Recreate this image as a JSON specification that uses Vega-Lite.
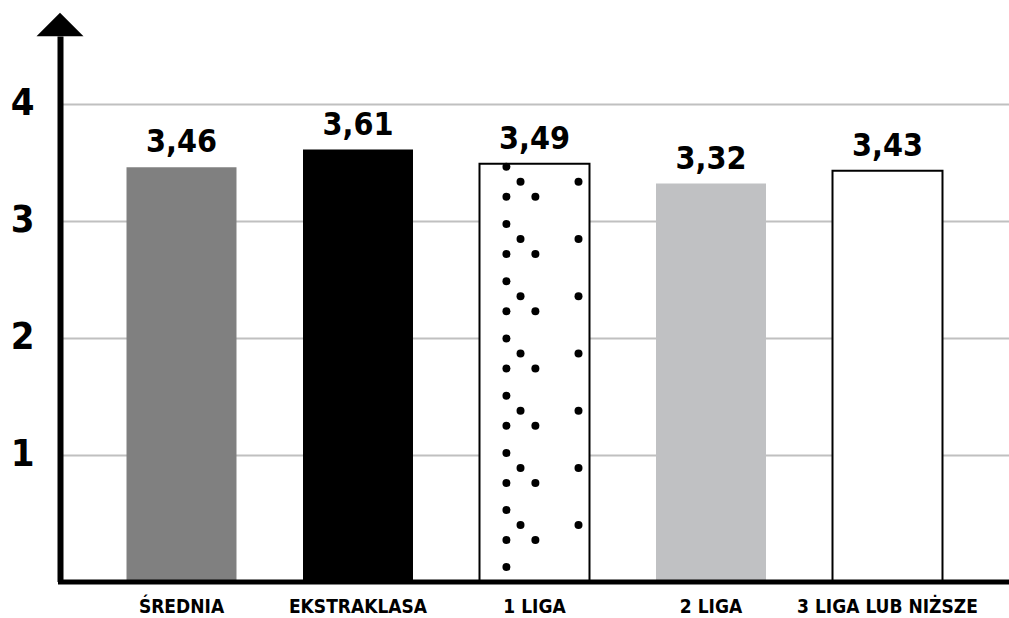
{
  "$schema": "https://vega.github.io/schema/vega-lite/v6.json",
  "width": 949,
  "height": 545.5,
  "autosize": {"type": "none"},
  "padding": {"left": 60, "top": 36, "right": 0, "bottom": 36.5},
  "background": "white",
  "config": {
    "view": {"stroke": null},
    "font": "DejaVu Sans Condensed",
    "locale": {"number": {"decimal": ",", "thousands": " ", "grouping": [3], "currency": ["", " zł"]}}
  },
  "datasets": {
    "bars": [
      {"k": "ŚREDNIA", "v": 3.46},
      {"k": "EKSTRAKLASA", "v": 3.61},
      {"k": "1 LIGA", "v": 3.49},
      {"k": "2 LIGA", "v": 3.32},
      {"k": "3 LIGA LUB NIŻSZE", "v": 3.43}
    ],
    "dots": [
      {"k": "1 LIGA", "col": "a", "v": 3.464}, {"k": "1 LIGA", "col": "b", "v": 3.336}, {"k": "1 LIGA", "col": "d", "v": 3.336}, {"k": "1 LIGA", "col": "a", "v": 3.208}, {"k": "1 LIGA", "col": "c", "v": 3.208},
      {"k": "1 LIGA", "col": "a", "v": 2.974}, {"k": "1 LIGA", "col": "b", "v": 2.846}, {"k": "1 LIGA", "col": "d", "v": 2.846}, {"k": "1 LIGA", "col": "a", "v": 2.718}, {"k": "1 LIGA", "col": "c", "v": 2.718},
      {"k": "1 LIGA", "col": "a", "v": 2.485}, {"k": "1 LIGA", "col": "b", "v": 2.356}, {"k": "1 LIGA", "col": "d", "v": 2.356}, {"k": "1 LIGA", "col": "a", "v": 2.228}, {"k": "1 LIGA", "col": "c", "v": 2.228},
      {"k": "1 LIGA", "col": "a", "v": 1.996}, {"k": "1 LIGA", "col": "b", "v": 1.868}, {"k": "1 LIGA", "col": "d", "v": 1.868}, {"k": "1 LIGA", "col": "a", "v": 1.739}, {"k": "1 LIGA", "col": "c", "v": 1.739},
      {"k": "1 LIGA", "col": "a", "v": 1.506}, {"k": "1 LIGA", "col": "b", "v": 1.378}, {"k": "1 LIGA", "col": "d", "v": 1.378}, {"k": "1 LIGA", "col": "a", "v": 1.25}, {"k": "1 LIGA", "col": "c", "v": 1.25},
      {"k": "1 LIGA", "col": "a", "v": 1.017}, {"k": "1 LIGA", "col": "b", "v": 0.889}, {"k": "1 LIGA", "col": "d", "v": 0.889}, {"k": "1 LIGA", "col": "a", "v": 0.761}, {"k": "1 LIGA", "col": "c", "v": 0.761},
      {"k": "1 LIGA", "col": "a", "v": 0.53}, {"k": "1 LIGA", "col": "b", "v": 0.402}, {"k": "1 LIGA", "col": "d", "v": 0.402}, {"k": "1 LIGA", "col": "a", "v": 0.274}, {"k": "1 LIGA", "col": "c", "v": 0.274},
      {"k": "1 LIGA", "col": "a", "v": 0.043}
    ]
  },
  "layer": [
    {
      "data": {"name": "bars"},
      "mark": {"type": "bar", "strokeWidth": 2, "clip": false},
      "encoding": {
        "x": {
          "field": "k",
          "type": "nominal",
          "scale": {
            "domain": ["ŚREDNIA", "EKSTRAKLASA", "1 LIGA", "2 LIGA", "3 LIGA LUB NIŻSZE"],
            "paddingInner": 0.3768,
            "paddingOuter": 0.3768
          },
          "axis": {
            "title": null,
            "labelAngle": 0,
            "labelFontSize": 19,
            "labelFontWeight": "bold",
            "labelColor": "black",
            "labelPadding": 16,
            "labelLimit": 400,
            "ticks": false,
            "tickSize": 0,
            "domainColor": "black",
            "domainWidth": 5,
            "domainCap": "square",
            "grid": false,
            "zindex": 1
          }
        },
        "y": {
          "field": "v",
          "type": "quantitative",
          "scale": {"domain": [-0.0812, 4.581], "nice": false, "zero": false},
          "axis": {
            "title": null,
            "values": [1, 2, 3, 4],
            "format": "d",
            "labelFontSize": 38,
            "labelFontWeight": "bold",
            "labelColor": "black",
            "labelPadding": 26,
            "ticks": false,
            "tickSize": 0,
            "domainColor": "black",
            "domainWidth": 6,
            "grid": true,
            "gridColor": "#c0c0c0",
            "gridWidth": 2
          }
        },
        "y2": {"datum": -0.0812},
        "color": {
          "field": "k",
          "type": "nominal",
          "scale": {
            "domain": ["ŚREDNIA", "EKSTRAKLASA", "1 LIGA", "2 LIGA", "3 LIGA LUB NIŻSZE"],
            "range": ["#808080", "#000000", "#ffffff", "#c0c1c3", "#ffffff"]
          },
          "legend": null
        },
        "stroke": {
          "field": "k",
          "type": "nominal",
          "scale": {
            "domain": ["ŚREDNIA", "EKSTRAKLASA", "1 LIGA", "2 LIGA", "3 LIGA LUB NIŻSZE"],
            "range": ["transparent", "transparent", "#000000", "transparent", "#000000"]
          },
          "legend": null
        }
      }
    },
    {
      "data": {"name": "dots"},
      "transform": [{"filter": "datum.col == 'a'"}],
      "mark": {"type": "circle", "size": 64, "color": "black", "opacity": 1},
      "encoding": {
        "x": {"field": "k", "type": "nominal", "bandPosition": 0.245},
        "y": {"field": "v", "type": "quantitative"}
      }
    },
    {
      "data": {"name": "dots"},
      "transform": [{"filter": "datum.col == 'b'"}],
      "mark": {"type": "circle", "size": 64, "color": "black", "opacity": 1},
      "encoding": {
        "x": {"field": "k", "type": "nominal", "bandPosition": 0.373},
        "y": {"field": "v", "type": "quantitative"}
      }
    },
    {
      "data": {"name": "dots"},
      "transform": [{"filter": "datum.col == 'c'"}],
      "mark": {"type": "circle", "size": 64, "color": "black", "opacity": 1},
      "encoding": {
        "x": {"field": "k", "type": "nominal", "bandPosition": 0.508},
        "y": {"field": "v", "type": "quantitative"}
      }
    },
    {
      "data": {"name": "dots"},
      "transform": [{"filter": "datum.col == 'd'"}],
      "mark": {"type": "circle", "size": 64, "color": "black", "opacity": 1},
      "encoding": {
        "x": {"field": "k", "type": "nominal", "bandPosition": 0.9},
        "y": {"field": "v", "type": "quantitative"}
      }
    },
    {
      "data": {"name": "bars"},
      "mark": {"type": "text", "fontSize": 32, "fontWeight": "bold", "color": "black", "baseline": "alphabetic", "dy": -15},
      "encoding": {
        "x": {"field": "k", "type": "nominal"},
        "y": {"field": "v", "type": "quantitative"},
        "text": {"field": "v", "type": "quantitative", "format": ".2f"}
      }
    },
    {
      "data": {"values": [{}]},
      "mark": {"type": "point", "shape": "M-1,0.5L1,0.5L0,-0.5Z", "size": 2209, "filled": true, "color": "black", "opacity": 1, "clip": false},
      "encoding": {
        "x": {"value": 0},
        "y": {"datum": 4.68}
      }
    }
  ]
}
